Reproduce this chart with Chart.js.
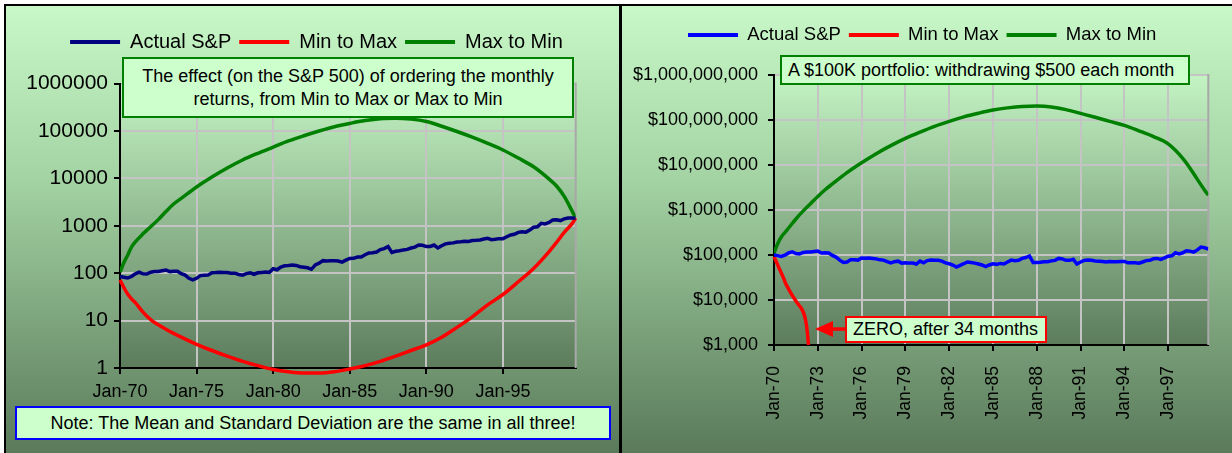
<!DOCTYPE html>
<html><head><meta charset="utf-8">
<script src="https://cdn.jsdelivr.net/npm/chart.js@4.4.1/dist/chart.umd.min.js"></script>
<style>
html,body{margin:0;padding:0;background:#fff;width:1232px;height:453px;overflow:hidden;font-family:"Liberation Sans",Arial,sans-serif;}
.panel{position:absolute;box-sizing:border-box;z-index:0;background:linear-gradient(to bottom,#c8f8c8 0%,#a4d4a4 38%,#7ea57e 70%,#5a7a5a 100%);}
#p1{left:4px;top:4px;width:617px;height:449px;border-left:2px solid #000;border-top:2px solid #000;}
#p2{left:619px;top:4px;width:613px;height:449px;border-left:3px solid #000;border-top:2px solid #000;}
canvas{position:absolute;top:0;z-index:1;}
#c1{left:0}
#c2{left:620px}
.box{position:absolute;box-sizing:border-box;z-index:2;background:#ccffcc;color:#000;white-space:nowrap;font-family:"Liberation Sans",Arial,sans-serif;}
#a1{left:122px;top:57px;width:452px;height:61px;border:2px solid #008000;text-align:center;font-size:18px;line-height:23px;padding-top:6px;}
#a2{left:15px;top:406px;width:596px;height:34px;border:2px solid #0000ff;text-align:center;font-size:18px;line-height:30px;}
#a3{left:780px;top:55px;width:410px;height:30px;border:2px solid #008000;font-size:18px;line-height:26px;padding-left:6px;}
#a4{left:845px;top:316px;width:202px;height:27px;border:2px solid #ff0000;font-size:18px;line-height:23px;padding-left:6px;}
#arrow{position:absolute;left:812px;top:318px;z-index:2;}
</style>
</head><body>
<div class="panel" id="p1"></div>
<div class="panel" id="p2"></div>
<canvas id="c1" width="620" height="453"></canvas>
<canvas id="c2" width="612" height="453"></canvas>
<div class="box" id="a1">The effect (on the S&amp;P 500) of ordering the monthly<br>returns, from Min to Max or Max to Min</div>
<div class="box" id="a2">Note: The Mean and Standard Deviation are the same in all three!</div>
<div class="box" id="a3">A $100K portfolio: withdrawing $500 each month</div>
<div class="box" id="a4">ZERO, after 34 months</div>
<svg id="arrow" width="36" height="24"><polygon points="3,11 21,3 21,19" fill="#ff0000"/><rect x="20" y="9.3" width="14" height="3.5" fill="#ff0000"/></svg>
<script>
// ---------- categories / ticks ----------
const SERIES_NAMES = ['Actual S&P', 'Min to Max', 'Max to Min'];
// month index 0 = Jan-70, quarterly samples (Jan, Apr, Jul, Oct) up to Oct-99 (month 357)
const QUARTER_MONTHS = Array.from({length: 120}, (_, i) => i * 3);
const CURVE_MONTHS = [0,3,6,9,12,18,24,30,36,42,48,60,72,84,96,108,120,132,144,156,168,180,192,204,216,228,240,252,264,276,288,300,312,324,336,342,348,354,357];
const L_RED_MONTHS = [0,3,6,9,12,18,24,36,48,60,72,84,96,108,120,132,144,156,168,180,192,204,216,228,240,252,264,276,288,300,312,324,336,342,348,354,357];
const R_RED_MONTHS = [0,2,4,6,8,10,12,14,16,18,20,22,24,25,26,27,28,29,30];

const L_X_TICKS = [0, 60, 120, 180, 240, 300];
const L_X_LABELS = ['Jan-70','Jan-75','Jan-80','Jan-85','Jan-90','Jan-95'];
const L_Y_TICKS = [1, 10, 100, 1000, 10000, 100000, 1000000];
const L_Y_LABELS = ['1','10','100','1000','10000','100000','1000000'];
const R_X_TICKS = [0, 36, 72, 108, 144, 180, 216, 252, 288, 324];
const R_X_LABELS = ['Jan-70','Jan-73','Jan-76','Jan-79','Jan-82','Jan-85','Jan-88','Jan-91','Jan-94','Jan-97'];
const R_Y_TICKS = [1e3, 1e4, 1e5, 1e6, 1e7, 1e8, 1e9];
const R_Y_LABELS = ['$1,000','$10,000','$100,000','$1,000,000','$10,000,000','$100,000,000','$1,000,000,000'];

// ---------- left chart values ----------
const L_BLUE = [
 85, 82, 79, 85,   97, 105, 97, 96,   105, 109, 109, 113,   117, 108, 110, 110,
 98, 91, 78, 72,   78, 89, 90, 91,    102, 103, 105, 104,   103, 100, 100, 94,
 91, 98, 102, 95,  102, 104, 106, 104, 124, 118, 135, 143,  145, 148, 146, 137,
 134, 130, 121, 150, 163, 184, 182, 184, 184, 181, 171, 189, 205, 206, 219, 219,
 245, 268, 270, 280, 315, 330, 365, 275, 290, 297, 310, 318, 340, 355, 395, 388,
 365, 366, 392, 340, 380, 415, 430, 436, 455, 462, 473, 468, 491, 494, 504, 527,
 544, 510, 519, 536, 535, 586, 641, 664, 728, 750, 735, 812, 930, 950, 1130, 1090,
 1180, 1320, 1340, 1290, 1400, 1460, 1455, 1450];
const L_RED = [72, 50, 36.3, 28.8, 24, 15.1, 10.5, 6.6, 4.47, 3.16, 2.34, 1.78, 1.38, 1.12, 0.93, 0.83, 0.78, 0.78, 0.83, 0.95,
 1.12, 1.38, 1.78, 2.34, 3.09, 4.47, 7.2, 12, 21.4, 35.5, 66, 126, 282, 447, 724, 1096, 1450];
const L_GREEN = [105, 166, 240, 355, 457, 676, 955, 1350, 2000, 2880, 3800, 6600, 10700, 16600, 24500, 33900, 45700, 61700, 79400, 100000,
 123000, 144500, 166000, 182000, 186000, 178000, 158500, 126000, 97700, 74100, 55000, 39800, 26900, 17600, 9770, 6920, 4170, 2090, 1450];

// ---------- right chart values ----------
const R_BLUE = [
 100000, 97000, 93000, 99000,  111000, 118000, 108000, 106000,  114000, 117000, 116000, 119000,  122000, 111000, 112000, 111000,
 98000, 90000, 77000, 68000,   70000, 78000, 78000, 77000,     86000, 85000, 86000, 84000,     82000, 78000, 77000, 71000,
 67000, 71000, 73000, 66000,   67000, 66000, 66000, 63000,     73000, 67000, 75000, 77000,     76000, 76000, 73000, 67000,
 64000, 60000, 54000, 59000,   64000, 70000, 68000, 66000,     63000, 60000, 55000, 60000,     64000, 62000, 65000, 63000,
 70000, 77000, 75000, 76000,   84000, 88000, 95000, 68000,     68000, 69000, 71000, 71000,     74000, 76000, 84000, 82000,
 76000, 76000, 80000, 63000,   70000, 76000, 77000, 76000,     74000, 73000, 72000, 70000,     72000, 71000, 71000, 72000,
 72000, 67000, 67000, 67000,   66000, 70000, 75000, 76000,     83000, 84000, 80000, 86000,     94000, 96000, 112000, 106000,
 112000, 124000, 122000, 116000, 130000, 150000, 145000, 136000];
const R_RED = [92000, 70000, 52000, 40000, 30000, 22000, 17500, 14000, 11500, 9500, 8000, 6800, 5400, 4500, 3500, 2400, 1300, 600, 200];
const R_GREEN = [110000, 178000, 251000, 316000, 398000, 631000, 955000, 1380000, 2000000, 2820000, 3800000, 6760000, 11200000, 17800000,
 26900000, 38900000, 53700000, 72400000, 93300000, 117000000, 141000000, 166000000, 186000000, 200000000, 204000000, 195000000,
 170000000, 140000000, 115000000, 93300000, 75900000, 57500000, 42700000, 29500000, 14100000, 8510000, 4790000, 2750000, 2140000];

// ---------- helpers ----------
const pts = (xs, ys) => xs.map((x, i) => ({x: x, y: ys[i]}));
const FONT = '"Liberation Sans", Arial, sans-serif';
const GRID = '#c4c4c4';

const plotDecor = {
  id: 'plotDecor',
  beforeDraw(chart, args, o) {
    const {ctx, chartArea: a} = chart;
    const g = ctx.createLinearGradient(0, a.top, 0, a.bottom);
    g.addColorStop(0, o.top); g.addColorStop(1, o.bottom);
    ctx.save(); ctx.fillStyle = g;
    ctx.fillRect(a.left, a.top, a.right - a.left, a.bottom - a.top);
    ctx.restore();
  },
  beforeDatasetsDraw(chart, args, o) {
    const {ctx, chartArea: a} = chart;
    ctx.save(); ctx.strokeStyle = '#a8a8a8'; ctx.lineWidth = 2;
    ctx.beginPath(); ctx.moveTo(a.right, a.top - 1); ctx.lineTo(a.right, a.bottom); ctx.stroke();
    ctx.restore();
  },
  afterLayout(chart, args, o) {
    const lg = chart.legend;
    if (lg) { lg.top += o.dy; lg.bottom += o.dy; lg.left += o.dx; lg.right += o.dx; }
  }
};

function makeChart(id, c) {
  const gridCfg = {
    color: ctx => ctx.index === 0 ? 'rgba(0,0,0,0)' : GRID,
    lineWidth: 2, tickColor: '#000', tickLength: 6, tickWidth: 2
  };
  return new Chart(document.getElementById(id), {
    type: 'line',
    data: {datasets: [
      {label: SERIES_NAMES[0], data: c.blue, borderColor: c.blueColor, backgroundColor: c.blueColor, borderWidth: 3.5, pointRadius: 0, tension: 0, fill: false},
      {label: SERIES_NAMES[1], data: c.red, borderColor: '#ff0000', backgroundColor: '#ff0000', borderWidth: 3.5, pointRadius: 0, cubicInterpolationMode: 'monotone', fill: false, clip: c.redClip},
      {label: SERIES_NAMES[2], data: c.green, borderColor: '#008000', backgroundColor: '#008000', borderWidth: 3.5, pointRadius: 0, cubicInterpolationMode: 'monotone', fill: false}
    ]},
    plugins: [plotDecor],
    options: {
      responsive: false, animation: false, devicePixelRatio: 1,
      layout: {padding: {left: 0, top: c.padTop, right: c.padRight, bottom: 0}},
      plugins: {
        tooltip: {enabled: false},
        plotDecor: {top: '#c4f4c4', bottom: '#5c7c5c', dx: c.legDx, dy: c.legDy},
        legend: {
          display: true, position: 'top',
          labels: {
            boxWidth: 50, boxHeight: 4, padding: 8, color: '#000',
            font: {family: FONT, size: c.legSize},
            generateLabels(chart) {
              const items = Chart.defaults.plugins.legend.labels.generateLabels(chart);
              items.forEach(it => { it.lineWidth = 0; it.fillStyle = it.strokeStyle; });
              return items;
            }
          }
        }
      },
      scales: {
        x: {
          type: 'linear', min: 0, max: 357,
          afterBuildTicks: s => { s.ticks = c.xTicks.map(v => ({value: v})); },
          afterFit: s => { s.height = c.xHeight; },
          ticks: {autoSkip: false, minRotation: c.xRot, maxRotation: c.xRot, padding: c.xPad, color: '#000',
                  font: {family: FONT, size: c.xSize}, callback: (v, i) => c.xLabels[i]},
          grid: gridCfg, border: {color: '#000', width: 2}
        },
        y: {
          type: 'logarithmic', min: c.yTicks[0], max: c.yTicks[c.yTicks.length - 1],
          afterBuildTicks: s => { s.ticks = c.yTicks.map(v => ({value: v})); },
          afterFit: s => { s.width = c.yWidth; },
          ticks: {autoSkip: false, padding: c.yPad, color: '#000',
                  font: {family: FONT, size: c.ySize}, callback: (v, i) => c.yLabels[i]},
          grid: gridCfg, border: {color: '#000', width: 2}
        }
      }
    }
  });
}

makeChart('c1', {
  blue: pts(QUARTER_MONTHS, L_BLUE), red: pts(L_RED_MONTHS, L_RED), green: pts(CURVE_MONTHS, L_GREEN),
  blueColor: '#000080', redClip: false,
  padTop: 45.6, padRight: 44.3, legSize: 20, legDx: 28.6, legDy: -21.6,
  xTicks: L_X_TICKS, xLabels: L_X_LABELS, xHeight: 85, xRot: 0, xPad: 7, xSize: 18,
  yTicks: L_Y_TICKS, yLabels: L_Y_LABELS, yWidth: 120, yPad: 6, ySize: 21
});
makeChart('c2', {
  blue: pts(QUARTER_MONTHS, R_BLUE), red: pts(R_RED_MONTHS, R_RED), green: pts(CURVE_MONTHS, R_GREEN),
  blueColor: '#0000ff', redClip: {left: 2, right: 2, top: 2, bottom: 0},
  padTop: 38.5, padRight: 23.7, legSize: 18.5, legDx: 8, legDy: -20.75,
  xTicks: R_X_TICKS, xLabels: R_X_LABELS, xHeight: 108, xRot: 90, xPad: 15, xSize: 17.5,
  yTicks: R_Y_TICKS, yLabels: R_Y_LABELS, yWidth: 154, yPad: 10, ySize: 18
});
</script>
</body></html>
